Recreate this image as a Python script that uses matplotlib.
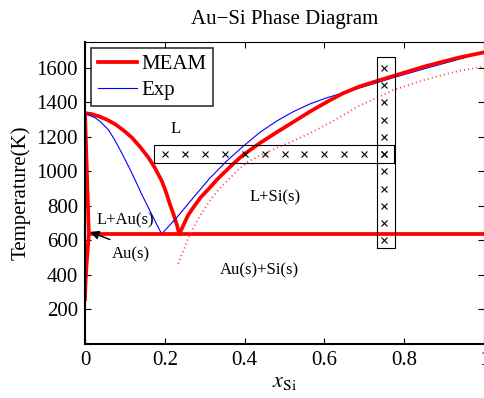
import numpy as np
import matplotlib
matplotlib.use('Agg')
from matplotlib import pyplot as plt

plt.rcParams['font.family'] = ['Liberation Serif', 'DejaVu Serif']
plt.rcParams['mathtext.fontset'] = 'stix'

# MEAM liquidus, Au-rich branch (x_Si, T in K)
meam_liq_au_x = [0.0, 0.015, 0.034, 0.055, 0.076, 0.097, 0.1175, 0.138, 0.159, 0.176,
                 0.1925, 0.203, 0.213, 0.222, 0.23, 0.236]
meam_liq_au_t = [1337, 1333, 1320, 1300, 1273, 1237, 1196, 1142, 1080, 1017,
                 944, 880, 808, 750, 692, 638]
# MEAM liquidus, Si-rich branch
meam_liq_si_x = [0.236, 0.242, 0.248, 0.258, 0.271, 0.29, 0.3125, 0.333, 0.354, 0.375, 0.396,
                 0.4375, 0.479, 0.521, 0.5625, 0.604, 0.646, 0.6875, 0.729, 0.771,
                 0.854, 0.9375, 1.0]
meam_liq_si_t = [638, 665, 695, 745, 790, 850, 905, 958, 1005, 1052, 1095,
                 1163, 1225, 1285, 1345, 1400, 1452, 1492, 1522, 1552,
                 1610, 1660, 1690]
# MEAM solidus and solvus on the Au side
meam_sol_x = [0.0, 0.0095, 0.008, 0.006, 0.004, 0.0025, 0.001, 0.0]
meam_sol_t = [1337, 638, 590, 527, 465, 411, 340, 260]
# MEAM eutectic line
meam_eut_x = [0.0095, 1.0]
meam_eut_t = [638, 638]
# metastable extension of the Si liquidus (dotted)
meam_meta_x = [0.233, 0.25, 0.2625, 0.2875, 0.3125, 0.333, 0.354, 0.38, 0.408, 0.45, 0.495,
               0.5125, 0.5625, 0.604, 0.646, 0.6875, 0.729, 0.771, 0.854, 0.9375, 1.0]
meam_meta_t = [465, 560, 636, 740, 830, 890, 940, 1000, 1056, 1105, 1151,
               1167, 1220, 1270, 1325, 1380, 1425, 1470, 1533, 1583, 1607]

# experimental liquidus
exp_liq_x = [0.0, 0.008, 0.026, 0.04, 0.059, 0.075, 0.0925, 0.11, 0.126, 0.142, 0.159, 0.175, 0.192,
             0.229, 0.271, 0.3125, 0.354, 0.396, 0.4375, 0.479, 0.521, 0.5625, 0.604,
             0.646, 0.6875, 0.729, 0.771, 0.854, 0.9375, 1.0]
exp_liq_t = [1337, 1328, 1310, 1285, 1240, 1180, 1105, 1025, 948, 868, 789, 715, 638,
             730, 847, 960, 1058, 1145, 1225, 1290, 1345, 1390, 1425,
             1455, 1483, 1512, 1542, 1597, 1650, 1690]

# sampling points
samp_h_x = np.arange(0.2, 0.751, 0.05)
samp_h_t = 1100
samp_v_x = 0.75
samp_v_t = np.arange(600, 1601, 100)

fig = plt.figure(figsize=(4.85, 3.98), dpi=100)
ax = fig.add_axes([0.1753, 0.1357, 0.8227, 0.7588])

ax.plot(meam_liq_au_x, meam_liq_au_t, color='red', lw=2.7, label='MEAM')
ax.plot(exp_liq_x, exp_liq_t, color='blue', lw=0.8, label='Exp')
ax.plot(meam_liq_si_x, meam_liq_si_t, color='red', lw=2.7)
ax.plot(meam_sol_x, meam_sol_t, color='red', lw=2.7)
ax.plot(meam_eut_x, meam_eut_t, color='red', lw=2.7)
ax.plot(meam_meta_x, meam_meta_t, color='#ff4040', lw=1.3, linestyle=(0, (0.6, 1.7)))

# sampling boxes
ax.plot([0.1725, 0.775, 0.775, 0.1725, 0.1725], [1048, 1048, 1155, 1155, 1048], color='black', lw=0.8)
ax.plot([0.7325, 0.7775, 0.7775, 0.7325, 0.7325], [555, 555, 1665, 1665, 555], color='black', lw=0.8)
ax.plot(samp_h_x, np.full(len(samp_h_x), samp_h_t), 'kx', ms=4, mew=0.8)
ax.plot(np.full(len(samp_v_t), samp_v_x), samp_v_t, 'kx', ms=4, mew=0.8)

ax.text(0.2275, 1244, 'L', fontsize=12, ha='center', va='center')
ax.text(0.4775, 849, 'L+Si(s)', fontsize=12, ha='center', va='center')
ax.text(0.4375, 424, 'Au(s)+Si(s)', fontsize=12, ha='center', va='center')
ax.text(0.028, 715, 'L+Au(s)', fontsize=12, ha='left', va='center')
ax.text(0.0675, 517, 'Au(s)', fontsize=12, ha='left', va='center')
ax.annotate('', xy=(0.013, 650), xytext=(0.0625, 605),
            arrowprops=dict(arrowstyle='-|>', color='black', lw=1, shrinkA=0, shrinkB=0,
                            mutation_scale=13))

ax.set_xlim(0, 1)
ax.set_ylim(0, 1750)
ax.set_xticks([0, 0.2, 0.4, 0.6, 0.8, 1])
ax.set_xticklabels(['0', '0.2', '0.4', '0.6', '0.8', '1'])
ax.set_yticks(range(200, 1601, 200))
ax.tick_params(direction='in', top=True, right=True, length=4, labelsize=15, pad=5)
for s in ['left', 'bottom']:
    ax.spines[s].set_linewidth(1.5)
for s in ['top', 'right']:
    ax.spines[s].set_linewidth(0.8)

ax.set_xlabel(r'$x_{\mathrm{Si}}$', fontsize=16, labelpad=2)
ax.set_ylabel('Temperature(K)', fontsize=15, labelpad=4)
ax.set_title('Au\u2212Si Phase Diagram', fontsize=15, pad=13)

leg = ax.legend(loc='upper left', fontsize=15, frameon=True, fancybox=False,
                edgecolor='black', handlelength=1.9, borderpad=0.3, labelspacing=0.3,
                handletextpad=0.2, borderaxespad=0.3)
leg.get_frame().set_linewidth(1.2)

fig.savefig('out.png', dpi=100)
